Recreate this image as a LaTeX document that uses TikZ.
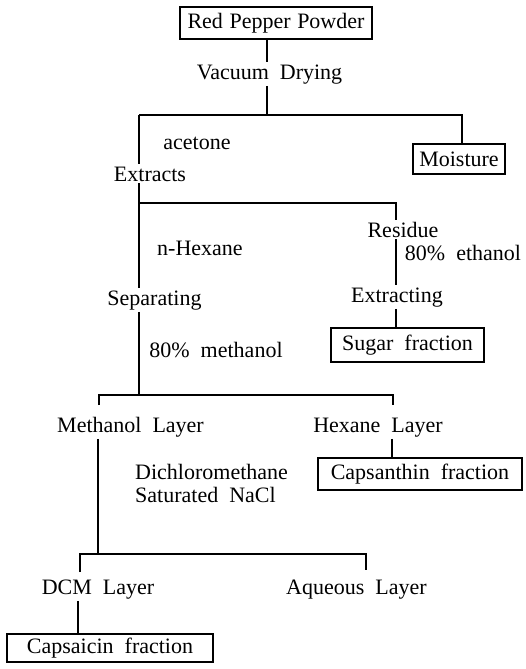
\documentclass[tikz,border=0pt]{standalone}
\usepackage{fontspec}
\setmainfont[WordSpace=2]{Liberation Serif}
\begin{document}
\begin{tikzpicture}[x=1pt,y=-1pt,
  lbl/.style={inner sep=2pt,font=\fontsize{22}{26}\selectfont},
  box/.style={draw,line width=1.1pt,inner sep=0pt,font=\fontsize{22}{26}\selectfont},
  conn/.style={line width=1.1pt}]
\useasboundingbox (0,0) rectangle (525,669);
% boxes
\node[box,minimum width=192pt,minimum height=32pt] (rpp) at (276,23) {\spaceskip=0.3em Red Pepper Powder};
\node[box,minimum width=92pt,minimum height=30pt] (moist) at (459,159) {Moisture};
\node[box,minimum width=153pt,minimum height=34pt] (sugar) at (407.5,345) {Sugar fraction};
\node[box,minimum width=204pt,minimum height=32pt] (caps) at (420,474) {Capsanthin fraction};
\node[box,minimum width=206pt,minimum height=28pt] (capc) at (110,648) {Capsaicin fraction};
% labels
\node[lbl,anchor=base] (vd) at (269.5,79) {Vacuum Drying};
\node[lbl,anchor=base] (ace) at (197,149) {acetone};
\node[lbl,anchor=base] (ext) at (150,181) {Extracts};
\node[lbl,anchor=base] (res) at (403,237) {Residue};
\node[lbl,anchor=base] (hex) at (200,255) {n-Hexane};
\node[lbl,anchor=base] (eth) at (463,260) {80\% ethanol};
\node[lbl,anchor=base] (extg) at (397,302) {Extracting};
\node[lbl,anchor=base] (sep) at (154.5,305) {Separating};
\node[lbl,anchor=base] (meth) at (216,357) {80\% methanol};
\node[lbl,anchor=base] (ml) at (130.5,432) {Methanol Layer};
\node[lbl,anchor=base] (hl) at (378,432) {Hexane Layer};
\node[lbl,anchor=base west] (dcmx) at (133,479) {Dichloromethane};
\node[lbl,anchor=base west] (nacl) at (133,502) {Saturated NaCl};
\node[lbl,anchor=base] (dcm) at (98,594) {DCM Layer};
\node[lbl,anchor=base] (aq) at (356.5,594) {Aqueous Layer};
% junctions
\coordinate (j1) at (267,115);
\coordinate (j1L) at (139,115);
\coordinate (j1R) at (462,115);
\coordinate (j2) at (139,203);
\coordinate (j2R) at (396,203);
\coordinate (j3) at (139,395);
\coordinate (j3L) at (99,395);
\coordinate (j3R) at (393,395);
\coordinate (t3L) at (99,405);
\coordinate (t3R) at (393,405);
\coordinate (x4) at (98,0);
\coordinate (j4L) at (80,554);
\coordinate (j4R) at (366,554);
\coordinate (t4L) at (80,572);
\coordinate (t4R) at (366,570);
\coordinate (x5) at (392,0);
\coordinate (x6) at (78,0);
% connectors
\draw[conn] (rpp.south -| j1) -- (vd.north -| j1);
\draw[conn] (vd.south -| j1) -- (j1);
\draw[conn] (j1L) -- (j1R) -- (moist.north -| j1R);
\draw[conn] (j1L) -- (ext.north -| j1L);
\draw[conn] (ext.south -| j1L) -- (sep.north -| j1L);
\draw[conn] (j2) -- (j2R) -- (res.north -| j2R);
\draw[conn] (res.south -| j2R) -- (extg.north -| j2R);
\draw[conn] (extg.south -| j2R) -- (sugar.north -| j2R);
\draw[conn] (sep.south -| j3) -- (j3);
\draw[conn] (t3L) -- (j3L) -- (j3R) -- (t3R);
\draw[conn] (ml.south -| x4) -- (j4L -| x4);
\draw[conn] (hl.south -| x5) -- (caps.north -| x5);
\draw[conn] (t4L) -- (j4L) -- (j4R) -- (t4R);
\draw[conn] (dcm.south -| x6) -- (capc.north -| x6);
\end{tikzpicture}
\end{document}
